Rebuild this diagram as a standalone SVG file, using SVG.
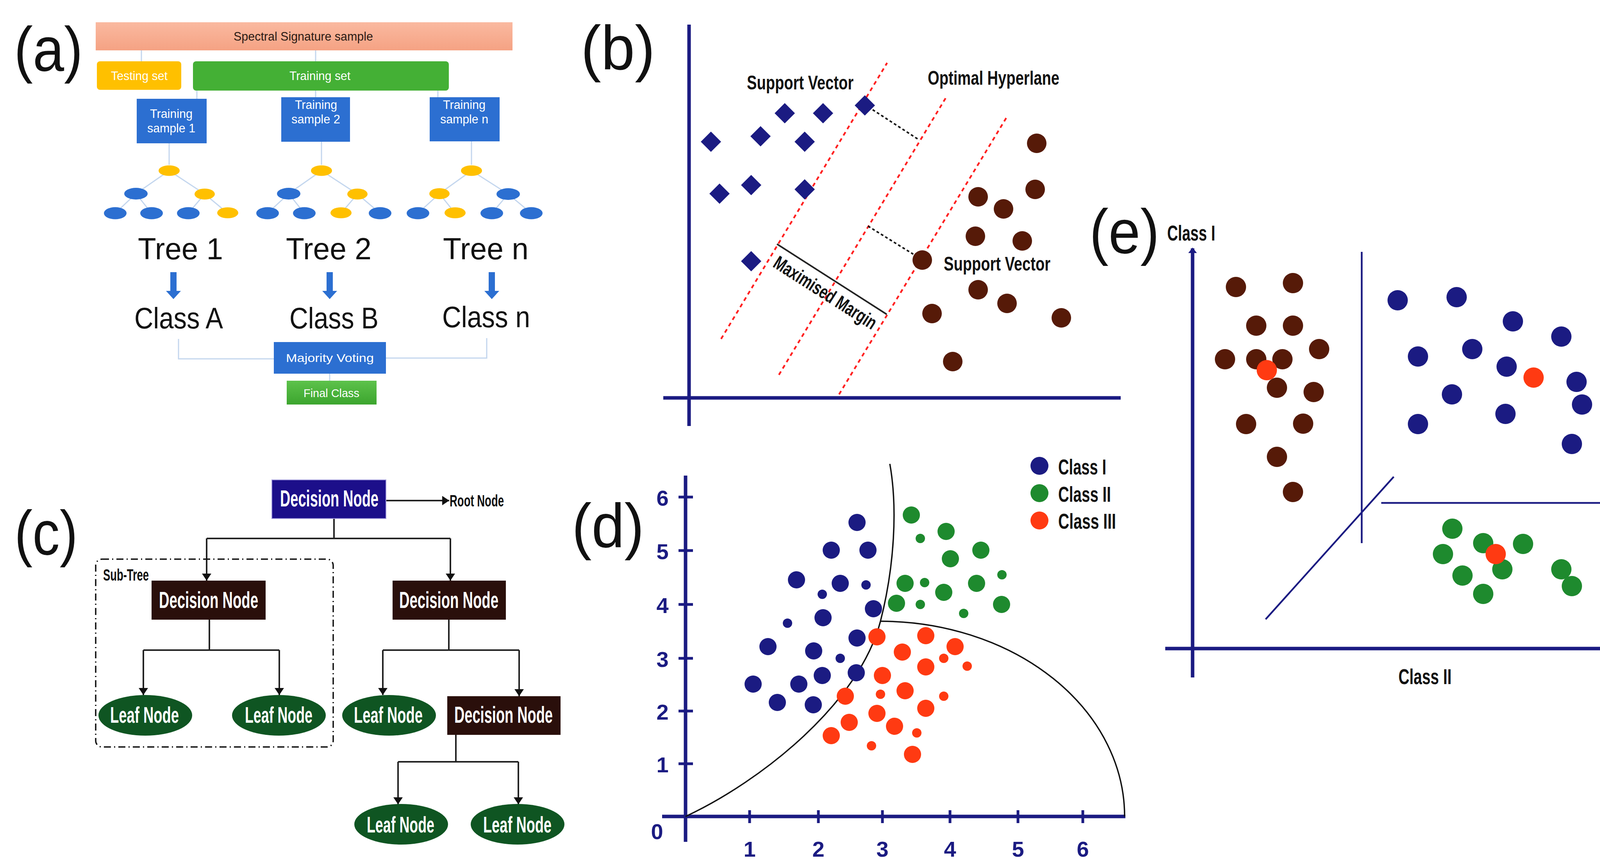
<svg xmlns="http://www.w3.org/2000/svg" width="4272" height="2223" viewBox="0 0 4272 2223">
<defs>
<linearGradient id="salmon" x1="0" y1="0" x2="0" y2="1"><stop offset="0" stop-color="#FAB9A0"/><stop offset="1" stop-color="#F5A283"/></linearGradient>
<linearGradient id="fgreen" x1="0" y1="0" x2="0" y2="1"><stop offset="0" stop-color="#5DC24B"/><stop offset="1" stop-color="#3CA52E"/></linearGradient>
<marker id="ah" viewBox="0 0 18 24" refX="18" refY="12" markerWidth="18" markerHeight="24" markerUnits="userSpaceOnUse" orient="auto"><path d="M0,0 L18,12 L0,24 z" fill="#111"/></marker>
<marker id="nah" viewBox="0 0 14 22" refX="12" refY="11" markerWidth="14" markerHeight="22" markerUnits="userSpaceOnUse" orient="auto"><path d="M0,0 L14,11 L0,22 z" fill="#1B1B82"/></marker>
<style>
.t{font-family:"Liberation Sans",Arial,sans-serif}
.b{font-family:"Liberation Sans",Arial,sans-serif;font-weight:bold}
.pl{font-family:"Liberation Sans",Arial,sans-serif;font-size:160px;fill:#111}
.w{fill:#fff}
.lb{stroke:#C3D6EE;stroke-width:3;fill:none}
.ty{fill:#FFC000}
.tb{fill:#2C6FD1}
.nv{fill:#1B1B82}
.br{fill:#561A08}
.rd{fill:#FF3A12}
.gr{fill:#1E8A2E}
.ax{stroke:#1B1B82;stroke-width:9;fill:none}
.red{stroke:#FF2020;stroke-width:4.5;stroke-dasharray:10 9;fill:none}
.bd{stroke:#111;stroke-width:4;stroke-dasharray:7 6;fill:none}
.cn{stroke:#222;stroke-width:4;fill:none}
.leaf{fill:#0F5522}
.dn{fill:#2A0F0B}
</style>
</defs>
<rect width="4272" height="2223" fill="#fff"/>

<!-- ===== panel labels ===== -->
<text class="pl" x="36" y="181" textLength="176" lengthAdjust="spacingAndGlyphs">(a)</text>
<text class="pl" x="1487" y="178" textLength="190" lengthAdjust="spacingAndGlyphs">(b)</text>
<text class="pl" x="37" y="1420" textLength="162" lengthAdjust="spacingAndGlyphs">(c)</text>
<text class="pl" x="1464" y="1402" textLength="185" lengthAdjust="spacingAndGlyphs">(d)</text>
<text class="pl" x="2789" y="648" textLength="179" lengthAdjust="spacingAndGlyphs">(e)</text>

<!-- ===== panel (a) connectors ===== -->
<g id="a-connectors" class="lb">
<path d="M362,129 V157 M808,129 V157 M504,232 V253 M808,232 V249 M1121,232 V249"/>
<path d="M433,367 V422 M823,363 V422 M1207,362 V422"/>
<path d="M433,437 L348,496 M433,437 L524,497 M348,496 L295,546 M348,496 L388,546 M524,497 L482,546 M524,497 L583,546"/>
<path d="M823,437 L739,496 M823,437 L915,497 M739,496 L685,546 M739,496 L779,546 M915,497 L873,546 M915,497 L973,546"/>
<path d="M1207,437 L1125,496 M1207,437 L1301,497 M1125,496 L1070,546 M1125,496 L1165,546 M1301,497 L1259,546 M1301,497 L1360,546"/>
<path d="M457,868 V919 H701 M1246,866 V917 H988 M844,957 V975"/>
</g>
<g id="a-spectral"><rect x="245" y="57" width="1067" height="72" fill="url(#salmon)"/><text class="t" x="598" y="104" font-size="31" fill="#2a1a14" textLength="357" lengthAdjust="spacingAndGlyphs">Spectral Signature sample</text></g>
<g id="a-testing"><rect x="248" y="157" width="216" height="73" rx="8" fill="#FFC000"/><text class="t w" x="284" y="205" font-size="32" textLength="145" lengthAdjust="spacingAndGlyphs">Testing set</text></g>
<g id="a-training"><rect x="494" y="157" width="655" height="75" rx="8" fill="#44B035"/><text class="t w" x="741" y="205" font-size="32" textLength="156" lengthAdjust="spacingAndGlyphs">Training set</text></g>
<g id="a-sample1"><rect x="350" y="253" width="179" height="114" fill="#2C6FD1"/><text class="t w" x="384" y="302" font-size="31" textLength="109" lengthAdjust="spacingAndGlyphs">Training</text><text class="t w" x="377" y="339" font-size="31" textLength="123" lengthAdjust="spacingAndGlyphs">sample 1</text></g>
<g id="a-sample2"><rect x="720" y="249" width="176" height="114" fill="#2C6FD1"/><text class="t w" x="755" y="279" font-size="31" textLength="108" lengthAdjust="spacingAndGlyphs">Training</text><text class="t w" x="746" y="316" font-size="31" textLength="125" lengthAdjust="spacingAndGlyphs">sample 2</text></g>
<g id="a-samplen"><rect x="1100" y="249" width="179" height="113" fill="#2C6FD1"/><text class="t w" x="1134" y="279" font-size="31" textLength="109" lengthAdjust="spacingAndGlyphs">Training</text><text class="t w" x="1127" y="316" font-size="31" textLength="123" lengthAdjust="spacingAndGlyphs">sample n</text></g>
<g id="a-tree1">
<ellipse class="ty" cx="433" cy="437" rx="27" ry="13.5"/>
<ellipse class="tb" cx="348" cy="496" rx="30" ry="15"/><ellipse class="ty" cx="524" cy="497" rx="26" ry="14"/>
<ellipse class="tb" cx="295" cy="546" rx="29" ry="15.5"/><ellipse class="tb" cx="388" cy="546" rx="29" ry="15.5"/><ellipse class="tb" cx="482" cy="546" rx="29" ry="15.5"/><ellipse class="ty" cx="583" cy="545" rx="27" ry="14"/>
</g>
<g id="a-tree2">
<ellipse class="ty" cx="823" cy="437" rx="27" ry="13.5"/>
<ellipse class="tb" cx="739" cy="496" rx="30" ry="15"/><ellipse class="ty" cx="915" cy="497" rx="26" ry="14"/>
<ellipse class="tb" cx="685" cy="546" rx="29" ry="15.5"/><ellipse class="tb" cx="779" cy="546" rx="29" ry="15.5"/><ellipse class="ty" cx="873" cy="545" rx="27" ry="14"/><ellipse class="tb" cx="973" cy="546" rx="29" ry="15.5"/>
</g>
<g id="a-treen">
<ellipse class="ty" cx="1207" cy="437" rx="27" ry="13.5"/>
<ellipse class="ty" cx="1125" cy="496" rx="26" ry="14"/><ellipse class="tb" cx="1301" cy="497" rx="30" ry="15"/>
<ellipse class="tb" cx="1070" cy="546" rx="29" ry="15.5"/><ellipse class="ty" cx="1165" cy="545" rx="27" ry="14"/><ellipse class="tb" cx="1259" cy="546" rx="29" ry="15.5"/><ellipse class="tb" cx="1360" cy="546" rx="29" ry="15.5"/>
</g>
<g id="a-treelabels" class="t" font-size="78" fill="#111">
<text x="353" y="664" textLength="218" lengthAdjust="spacingAndGlyphs">Tree 1</text>
<text x="732" y="664" textLength="219" lengthAdjust="spacingAndGlyphs">Tree 2</text>
<text x="1134" y="664" textLength="219" lengthAdjust="spacingAndGlyphs">Tree n</text>
</g>
<g id="a-arrows" fill="#2C6FD1">
<path d="M436,697 h16 v48 h11 l-19,21 l-19,-21 h11 z"/>
<path d="M836,697 h16 v48 h11 l-19,21 l-19,-21 h11 z"/>
<path d="M1251,697 h16 v48 h11 l-19,21 l-19,-21 h11 z"/>
</g>
<g id="a-classlabels" class="t" font-size="76" fill="#111">
<text x="344" y="841" textLength="227" lengthAdjust="spacingAndGlyphs">Class A</text>
<text x="741" y="841" textLength="228" lengthAdjust="spacingAndGlyphs">Class B</text>
<text x="1132" y="838" textLength="225" lengthAdjust="spacingAndGlyphs">Class n</text>
</g>
<g id="a-majority"><rect x="701" y="876" width="287" height="81" fill="#2C6FD1"/><text class="t w" x="732" y="927" font-size="30" textLength="225" lengthAdjust="spacingAndGlyphs">Majority  Voting</text></g>
<g id="a-final"><rect x="734" y="975" width="230" height="61" fill="url(#fgreen)"/><text class="t w" x="777" y="1017" font-size="30" textLength="143" lengthAdjust="spacingAndGlyphs">Final Class</text></g>

<!-- ===== panel (b) ===== -->
<g id="b-axes" class="ax"><path d="M1764,63 V1091 M1698,1019 H2869"/></g>
<g id="b-lines">
<path class="red" d="M1846,868 L2271,161"/>
<path class="red" d="M1994,960 L2421,251"/>
<path class="red" d="M2148,1010 L2576,302"/>
<path class="bd" d="M2234,281 L2354,359"/>
<path class="bd" d="M2222,579 L2338,651"/>
<path class="cn" d="M1989,625 L2270,805"/>
</g>
<g id="b-diamonds" class="nv">
<path d="M1820,337 l26,26 l-26,26 l-26,-26 z"/>
<path d="M1947,323 l26,26 l-26,26 l-26,-26 z"/>
<path d="M2009,264 l26,26 l-26,26 l-26,-26 z"/>
<path d="M2107,264 l26,26 l-26,26 l-26,-26 z"/>
<path d="M2060,337 l26,26 l-26,26 l-26,-26 z"/>
<path d="M2214,244 l26,26 l-26,26 l-26,-26 z"/>
<path d="M1842,470 l26,26 l-26,26 l-26,-26 z"/>
<path d="M1923,448 l26,26 l-26,26 l-26,-26 z"/>
<path d="M2060,459 l26,26 l-26,26 l-26,-26 z"/>
<path d="M1923,643 l26,26 l-26,26 l-26,-26 z"/>
</g>
<g id="b-circles" class="br">
<circle cx="2654" cy="367" r="25"/><circle cx="2650" cy="485" r="25"/><circle cx="2504" cy="504" r="25"/><circle cx="2569" cy="535" r="25"/>
<circle cx="2497" cy="605" r="25"/><circle cx="2617" cy="617" r="25"/><circle cx="2361" cy="666" r="25"/><circle cx="2504" cy="742" r="25"/>
<circle cx="2578" cy="777" r="25"/><circle cx="2386" cy="803" r="25"/><circle cx="2717" cy="814" r="25"/><circle cx="2439" cy="926" r="25"/>
</g>
<g id="b-labels" class="b" font-size="50" fill="#111">
<text x="1912" y="229" textLength="273" lengthAdjust="spacingAndGlyphs">Support Vector</text>
<text x="2375" y="217" textLength="337" lengthAdjust="spacingAndGlyphs">Optimal Hyperlane</text>
<text x="2416" y="693" textLength="273" lengthAdjust="spacingAndGlyphs">Support Vector</text>
<text transform="translate(1989,625) rotate(32.6)" x="20" y="55" font-size="49" textLength="303" lengthAdjust="spacingAndGlyphs">Maximised Margin</text>
</g>

<!-- ===== panel (c) ===== -->
<g id="c-connectors" class="cn">
<path d="M988,1282 H1150" marker-end="url(#ah)"/>
<path d="M855,1328 V1379 M529,1379 H1153"/>
<path d="M529,1379 V1487" marker-end="url(#ah)"/>
<path d="M1153,1379 V1487" marker-end="url(#ah)"/>
<path d="M536,1587 V1665 M367,1665 H715"/>
<path d="M367,1665 V1780" marker-end="url(#ah)"/>
<path d="M715,1665 V1780" marker-end="url(#ah)"/>
<path d="M1149,1587 V1665 M980,1665 H1329"/>
<path d="M980,1665 V1780" marker-end="url(#ah)"/>
<path d="M1329,1665 V1783" marker-end="url(#ah)"/>
<path d="M1167,1882 V1951 M1019,1951 H1327"/>
<path d="M1019,1951 V2060" marker-end="url(#ah)"/>
<path d="M1327,1951 V2060" marker-end="url(#ah)"/>
</g>
<g id="c-subtree"><rect x="245" y="1432" width="608" height="481" rx="16" fill="none" stroke="#111" stroke-width="3.5" stroke-dasharray="18 8 3 8"/><text class="b" x="264" y="1487" font-size="42" fill="#111" textLength="117" lengthAdjust="spacingAndGlyphs">Sub-Tree</text></g>
<g id="c-root"><rect x="696" y="1229" width="292" height="99" fill="#1C0F8A" stroke="#9C94D8" stroke-width="2"/><text class="b w" x="717" y="1297" font-size="60" textLength="252" lengthAdjust="spacingAndGlyphs">Decision Node</text></g>
<g id="c-rootlabel"><text class="b" x="1151" y="1297" font-size="42" fill="#111" textLength="139" lengthAdjust="spacingAndGlyphs">Root Node</text></g>
<g id="c-dn1"><rect x="388" y="1487" width="292" height="100" class="dn"/><text class="b w" x="407" y="1557" font-size="60" textLength="254" lengthAdjust="spacingAndGlyphs">Decision Node</text></g>
<g id="c-dn2"><rect x="1005" y="1487" width="290" height="100" class="dn"/><text class="b w" x="1022" y="1557" font-size="60" textLength="254" lengthAdjust="spacingAndGlyphs">Decision Node</text></g>
<g id="c-dn3"><rect x="1145" y="1783" width="290" height="99" class="dn"/><text class="b w" x="1163" y="1851" font-size="60" textLength="252" lengthAdjust="spacingAndGlyphs">Decision Node</text></g>
<g id="c-leaf1"><ellipse cx="372" cy="1832" rx="120" ry="52" class="leaf"/><text class="b w" x="282" y="1851" font-size="58" textLength="176" lengthAdjust="spacingAndGlyphs">Leaf Node</text></g>
<g id="c-leaf2"><ellipse cx="714" cy="1832" rx="120" ry="52" class="leaf"/><text class="b w" x="627" y="1851" font-size="58" textLength="173" lengthAdjust="spacingAndGlyphs">Leaf Node</text></g>
<g id="c-leaf3"><ellipse cx="996" cy="1832" rx="120" ry="52" class="leaf"/><text class="b w" x="906" y="1851" font-size="58" textLength="176" lengthAdjust="spacingAndGlyphs">Leaf Node</text></g>
<g id="c-leaf4"><ellipse cx="1027" cy="2111" rx="120" ry="52" class="leaf"/><text class="b w" x="939" y="2132" font-size="58" textLength="173" lengthAdjust="spacingAndGlyphs">Leaf Node</text></g>
<g id="c-leaf5"><ellipse cx="1325" cy="2111" rx="120" ry="52" class="leaf"/><text class="b w" x="1237" y="2132" font-size="58" textLength="175" lengthAdjust="spacingAndGlyphs">Leaf Node</text></g>

<!-- ===== panel (d) ===== -->
<g id="d-axes">
<path class="ax" d="M1755,1218 V2156 M1695,2091 H2881"/>
<path stroke="#1B1B82" stroke-width="7" d="M1737,1273 H1774 M1737,1410 H1774 M1737,1548 H1774 M1737,1686 H1774 M1737,1821 H1774 M1737,1956 H1774 M1919,2075 V2108 M2095,2075 V2108 M2259,2075 V2108 M2432,2075 V2108 M2606,2075 V2108 M2772,2075 V2108"/>
</g>
<g id="d-ticklabels" class="b" font-size="56" fill="#1B1B82" text-anchor="middle">
<text x="1696" y="1295">6</text><text x="1696" y="1432">5</text><text x="1696" y="1570">4</text><text x="1696" y="1708">3</text><text x="1696" y="1843">2</text><text x="1696" y="1978">1</text>
<text x="1682" y="2149">0</text>
<text x="1919" y="2194">1</text><text x="2095" y="2194">2</text><text x="2259" y="2194">3</text><text x="2432" y="2194">4</text><text x="2606" y="2194">5</text><text x="2772" y="2194">6</text>
</g>
<g id="d-curves" fill="none" stroke="#111" stroke-width="3.5">
<path d="M1755,2091 C1950,2000 2200,1800 2254,1591 C2290,1450 2298,1300 2278,1188"/>
<path d="M2254,1591 A625,500 0 0 1 2879,2091"/>
</g>
<g id="d-class1" class="nv">
<circle cx="2194" cy="1338" r="22"/><circle cx="2128" cy="1409" r="22"/><circle cx="2222" cy="1409" r="22"/><circle cx="2039" cy="1485" r="22"/>
<circle cx="2151" cy="1494" r="22"/><circle cx="2236" cy="1559" r="22"/><circle cx="2107" cy="1582" r="22"/><circle cx="1966" cy="1656" r="22"/>
<circle cx="2083" cy="1667" r="22"/><circle cx="2194" cy="1634" r="22"/><circle cx="2105" cy="1730" r="22"/><circle cx="2192" cy="1723" r="22"/>
<circle cx="1928" cy="1752" r="22"/><circle cx="2045" cy="1752" r="22"/><circle cx="1990" cy="1799" r="22"/><circle cx="2082" cy="1805" r="22"/>
<circle cx="2217" cy="1498" r="12"/><circle cx="2105" cy="1522" r="12"/><circle cx="2016" cy="1596" r="12"/><circle cx="2151" cy="1686" r="12"/>
</g>
<g id="d-class2" class="gr">
<circle cx="2333" cy="1319" r="22"/><circle cx="2422" cy="1361" r="22"/><circle cx="2511" cy="1409" r="22"/><circle cx="2433" cy="1431" r="22"/>
<circle cx="2317" cy="1494" r="22"/><circle cx="2500" cy="1494" r="22"/><circle cx="2416" cy="1517" r="22"/><circle cx="2295" cy="1545" r="22"/><circle cx="2564" cy="1548" r="22"/>
<circle cx="2356" cy="1379" r="12"/><circle cx="2367" cy="1492" r="12"/><circle cx="2565" cy="1472" r="12"/><circle cx="2356" cy="1548" r="12"/><circle cx="2467" cy="1571" r="12"/>
</g>
<g id="d-class3" class="rd">
<circle cx="2245" cy="1631" r="22"/><circle cx="2370" cy="1628" r="22"/><circle cx="2445" cy="1656" r="22"/><circle cx="2310" cy="1670" r="22"/>
<circle cx="2370" cy="1708" r="22"/><circle cx="2259" cy="1730" r="22"/><circle cx="2164" cy="1783" r="22"/><circle cx="2317" cy="1769" r="22"/>
<circle cx="2370" cy="1814" r="22"/><circle cx="2245" cy="1827" r="22"/><circle cx="2174" cy="1850" r="22"/><circle cx="2290" cy="1860" r="22"/>
<circle cx="2128" cy="1884" r="22"/><circle cx="2336" cy="1932" r="22"/>
<circle cx="2416" cy="1686" r="12"/><circle cx="2476" cy="1706" r="12"/><circle cx="2254" cy="1778" r="12"/><circle cx="2416" cy="1783" r="12"/><circle cx="2347" cy="1877" r="12"/><circle cx="2231" cy="1910" r="12"/>
</g>
<g id="d-legend">
<circle cx="2661" cy="1193" r="23" class="nv"/><circle cx="2661" cy="1263" r="23" class="gr"/><circle cx="2661" cy="1333" r="23" class="rd"/>
<g class="b" font-size="56" fill="#111">
<text x="2709" y="1215" textLength="123" lengthAdjust="spacingAndGlyphs">Class I</text>
<text x="2709" y="1285" textLength="135" lengthAdjust="spacingAndGlyphs">Class II</text>
<text x="2709" y="1354" textLength="148" lengthAdjust="spacingAndGlyphs">Class III</text>
</g>
</g>

<!-- ===== panel (e) ===== -->
<g id="e-axes">
<path class="ax" stroke-width="10" d="M3053,1735 V636" marker-end="url(#nah)"/>
<path class="ax" stroke-width="10" d="M2983,1661 H4241" marker-end="url(#nah)"/>
<path stroke="#1B1B82" stroke-width="4.5" fill="none" d="M3486,645 V1391 M3536,1288 H4209 M3240,1586 L3568,1221"/>
</g>
<g id="e-labels" class="b" font-size="56" fill="#111">
<text x="2988" y="616" textLength="123" lengthAdjust="spacingAndGlyphs">Class I</text>
<text x="3580" y="1752" textLength="136" lengthAdjust="spacingAndGlyphs">Class II</text>
</g>
<g id="e-brown" class="br">
<circle cx="3164" cy="735" r="26"/><circle cx="3310" cy="725" r="26"/><circle cx="3216" cy="834" r="26"/><circle cx="3310" cy="834" r="26"/>
<circle cx="3377" cy="894" r="26"/><circle cx="3136" cy="920" r="26"/><circle cx="3216" cy="920" r="26"/><circle cx="3283" cy="920" r="26"/>
<circle cx="3269" cy="993" r="26"/><circle cx="3363" cy="1004" r="26"/><circle cx="3190" cy="1086" r="26"/><circle cx="3336" cy="1085" r="26"/>
<circle cx="3269" cy="1170" r="26"/><circle cx="3310" cy="1260" r="26"/>
</g>
<g id="e-blue" class="nv">
<circle cx="3578" cy="769" r="26"/><circle cx="3729" cy="761" r="26"/><circle cx="3873" cy="823" r="26"/><circle cx="3997" cy="862" r="26"/>
<circle cx="4122" cy="823" r="26"/><circle cx="3630" cy="913" r="26"/><circle cx="3769" cy="894" r="26"/><circle cx="3857" cy="939" r="26"/>
<circle cx="4036" cy="978" r="26"/><circle cx="4184" cy="966" r="26"/><circle cx="3717" cy="1010" r="26"/><circle cx="4050" cy="1036" r="26"/>
<circle cx="3854" cy="1060" r="26"/><circle cx="3630" cy="1086" r="26"/><circle cx="4024" cy="1137" r="26"/><circle cx="4184" cy="1207" r="26"/>
</g>
<g id="e-green" class="gr">
<circle cx="3718" cy="1354" r="26"/><circle cx="3797" cy="1391" r="26"/><circle cx="3899" cy="1393" r="26"/><circle cx="3694" cy="1419" r="26"/>
<circle cx="3846" cy="1458" r="26"/><circle cx="3744" cy="1474" r="26"/><circle cx="3997" cy="1458" r="26"/><circle cx="4024" cy="1501" r="26"/><circle cx="3797" cy="1521" r="26"/>
</g>
<g id="e-red" class="rd">
<circle cx="3243" cy="948" r="26"/><circle cx="3926" cy="967" r="26"/><circle cx="3829" cy="1419" r="26"/>
</g>
</svg>
